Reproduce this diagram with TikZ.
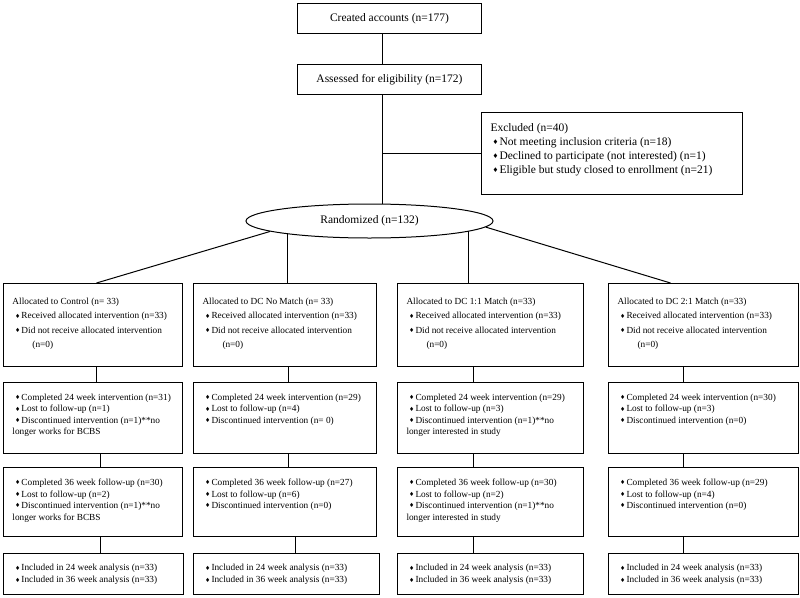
\documentclass[tikz,border=0pt]{standalone}
\usepackage{fontspec}
\setmainfont{Liberation Serif}
\newfontfamily\dejavu{DejaVu Sans}
\usetikzlibrary{shapes.geometric}
\newcommand{\dm}{\hspace*{2.5pt}\makebox[6.5pt][l]{\raisebox{0.6pt}{\dejavu\fontsize{5.8}{5}\selectfont ♦}}}
\newcommand{\dmx}{\hspace*{2pt}\makebox[7pt][l]{\raisebox{0.8pt}{\dejavu\fontsize{6.5}{6}\selectfont ♦}}}
\begin{document}
\begin{tikzpicture}[x=1pt,y=-1pt,
  line width=1pt,
  box/.style={draw,rectangle,anchor=north west,inner sep=0pt,line width=1pt},
  bigtxt/.style={font=\fontsize{11.5}{14}\selectfont},
  txt/.style={anchor=north west,align=left,inner sep=0pt},
  rowa/.style={txt,font=\fontsize{9.3}{14.5}\selectfont},
  rowb/.style={txt,font=\fontsize{9.3}{11.5}\selectfont},
  rowd/.style={txt,font=\fontsize{9.3}{12}\selectfont},
  conn/.style={draw,line width=1pt}]
\useasboundingbox (0,0) rectangle (800,597);

% top
\node[box,bigtxt,minimum width=184pt,minimum height=30pt] (ca) at (297,3) {Created accounts (n=177)};
\node[box,bigtxt,minimum width=184pt,minimum height=30pt] (as) at (297,64) {Assessed for eligibility (n=172)};
\node[box,minimum width=261pt,minimum height=82pt] (ex) at (481,112) {};
\node[txt,font=\fontsize{11.5}{14}\selectfont] (ext) at ([shift={(9pt,-11pt)}]ex.north west)
  {Excluded (n=40)\\
   \dmx Not meeting inclusion criteria (n=18)\\
   \dmx Declined to participate (not interested) (n=1)\\
   \dmx Eligible but study closed to enrollment (n=21)};
\node[draw,ellipse,inner sep=0pt,minimum width=247pt,minimum height=34pt,bigtxt] (r) at (369.5,221) {Randomized (n=132)};

\coordinate (sp) at ([xshift=-7pt]as.south);
\draw[conn] ([xshift=-7pt]ca.south) -- ([xshift=-7pt]as.north);
\draw[conn] (sp) -- (sp |- r.north);
\draw[conn] (ex.west) -- (ex.west -| sp);

% row 1
\node[box,minimum width=179pt,minimum height=83pt] (a1) at (3,283) {};
\node[box,minimum width=183pt,minimum height=83pt] (a2) at (193,283) {};
\node[box,minimum width=186pt,minimum height=83pt] (a3) at (397,283) {};
\node[box,minimum width=190pt,minimum height=83pt] (a4) at (608,283) {};
\node[rowa] (a1t) at ([shift={(9pt,-14.5pt)}]a1.north west)
  {Allocated to Control (n= 33)\\ \dm Received allocated intervention (n=33)\\ \dm Did not receive allocated intervention\\ \hspace*{20pt}(n=0)};
\node[rowa] (a2t) at ([shift={(9pt,-14.5pt)}]a2.north west)
  {Allocated to DC No Match (n= 33)\\ \dm Received allocated intervention (n=33)\\ \dm Did not receive allocated intervention\\ \hspace*{20pt}(n=0)};
\node[rowa] (a3t) at ([shift={(9pt,-14.5pt)}]a3.north west)
  {Allocated to DC 1:1 Match (n=33)\\ \dm Received allocated intervention (n=33)\\ \dm Did not receive allocated intervention\\ \hspace*{20pt}(n=0)};
\node[rowa] (a4t) at ([shift={(9pt,-14.5pt)}]a4.north west)
  {Allocated to DC 2:1 Match (n=33)\\ \dm Received allocated intervention (n=33)\\ \dm Did not receive allocated intervention\\ \hspace*{20pt}(n=0)};

% row 2
\node[box,minimum width=179pt,minimum height=71pt] (b1) at (3,382) {};
\node[box,minimum width=183pt,minimum height=71pt] (b2) at (193,382) {};
\node[box,minimum width=186pt,minimum height=71pt] (b3) at (397,382) {};
\node[box,minimum width=190pt,minimum height=71pt] (b4) at (608,382) {};
\node[rowb] (b1t) at ([shift={(9pt,-11.5pt)}]b1.north west)
  {\dm Completed 24 week intervention (n=31)\\ \dm Lost to follow-up (n=1)\\ \dm Discontinued intervention (n=1)**no\\ longer works for BCBS};
\node[rowb] (b2t) at ([shift={(9pt,-11.5pt)}]b2.north west)
  {\dm Completed 24 week intervention (n=29)\\ \dm Lost to follow-up (n=4)\\ \dm Discontinued intervention (n= 0)};
\node[rowb] (b3t) at ([shift={(9pt,-11.5pt)}]b3.north west)
  {\dm Completed 24 week intervention (n=29)\\ \dm Lost to follow-up (n=3)\\ \dm Discontinued intervention (n=1)**no\\ longer interested in study};
\node[rowb] (b4t) at ([shift={(9pt,-11.5pt)}]b4.north west)
  {\dm Completed 24 week intervention (n=30)\\ \dm Lost to follow-up (n=3)\\ \dm Discontinued intervention (n=0)};

% row 3
\node[box,minimum width=179pt,minimum height=69pt] (c1) at (3,467) {};
\node[box,minimum width=183pt,minimum height=69pt] (c2) at (193,467) {};
\node[box,minimum width=186pt,minimum height=69pt] (c3) at (397,467) {};
\node[box,minimum width=190pt,minimum height=69pt] (c4) at (608,467) {};
\node[rowb] (c1t) at ([shift={(9pt,-11.5pt)}]c1.north west)
  {\dm Completed 36 week follow-up (n=30)\\ \dm Lost to follow-up (n=2)\\ \dm Discontinued intervention (n=1)**no\\ longer works for BCBS};
\node[rowb] (c2t) at ([shift={(9pt,-11.5pt)}]c2.north west)
  {\dm Completed 36 week follow-up (n=27)\\ \dm Lost to follow-up (n=6)\\ \dm Discontinued intervention (n=0)};
\node[rowb] (c3t) at ([shift={(9pt,-11.5pt)}]c3.north west)
  {\dm Completed 36 week follow-up (n=30)\\ \dm Lost to follow-up (n=2)\\ \dm Discontinued intervention (n=1)**no\\ longer interested in study};
\node[rowb] (c4t) at ([shift={(9pt,-11.5pt)}]c4.north west)
  {\dm Completed 36 week follow-up (n=29)\\ \dm Lost to follow-up (n=4)\\ \dm Discontinued intervention (n=0)};

% row 4
\node[box,minimum width=180pt,minimum height=41pt] (d1) at (3,553) {};
\node[box,minimum width=186pt,minimum height=41pt] (d2) at (193,553) {};
\node[box,minimum width=186pt,minimum height=41pt] (d3) at (397,553) {};
\node[box,minimum width=190pt,minimum height=41pt] (d4) at (608,553) {};
\node[rowd] (d1t) at ([shift={(9pt,-11pt)}]d1.north west)
  {\dm Included in 24 week analysis (n=33)\\ \dm Included in 36 week analysis (n=33)};
\node[rowd] (d2t) at ([shift={(9pt,-11pt)}]d2.north west)
  {\dm Included in 24 week analysis (n=33)\\ \dm Included in 36 week analysis (n=33)};
\node[rowd] (d3t) at ([shift={(9pt,-11pt)}]d3.north west)
  {\dm Included in 24 week analysis (n=33)\\ \dm Included in 36 week analysis (n=33)};
\node[rowd] (d4t) at ([shift={(9pt,-11pt)}]d4.north west)
  {\dm Included in 24 week analysis (n=33)\\ \dm Included in 36 week analysis (n=33)};

% randomization connectors
\draw[conn] (r.186) -- ([xshift=3.5pt]a1.north);
\draw[conn] (r.189) -- (r.189 |- a2.north);
\draw[conn] (r.-6) -- (r.-6 |- a3.north);
\draw[conn] (r.-3) -- ([xshift=-33pt]a4.north);

% column connectors
\draw[conn] ([xshift=3.5pt]a1.south) -- ([xshift=3.5pt]b1.north);
\draw[conn] ([xshift=7.5pt]b1.south) -- ([xshift=7.5pt]c1.north);
\draw[conn] ([xshift=7.5pt]c1.south) -- ([xshift=7pt]d1.north);
\draw[conn] ([xshift=3.5pt]a2.south) -- ([xshift=3.5pt]b2.north);
\draw[conn] ([xshift=3.5pt]b2.south) -- ([xshift=3.5pt]c2.north);
\draw[conn] ([xshift=10.5pt]c2.south) -- ([xshift=9pt]d2.north);
\draw[conn] ([xshift=-17pt]a3.south) -- ([xshift=-17pt]b3.north);
\draw[conn] ([xshift=-17pt]b3.south) -- ([xshift=-17pt]c3.north);
\draw[conn] ([xshift=-17pt]c3.south) -- ([xshift=-17pt]d3.north);
\draw[conn] ([xshift=-20pt]a4.south) -- ([xshift=-20pt]b4.north);
\draw[conn] ([xshift=-20pt]b4.south) -- ([xshift=-20pt]c4.north);
\draw[conn] ([xshift=-20pt]c4.south) -- ([xshift=-20pt]d4.north);
\end{tikzpicture}
\end{document}
